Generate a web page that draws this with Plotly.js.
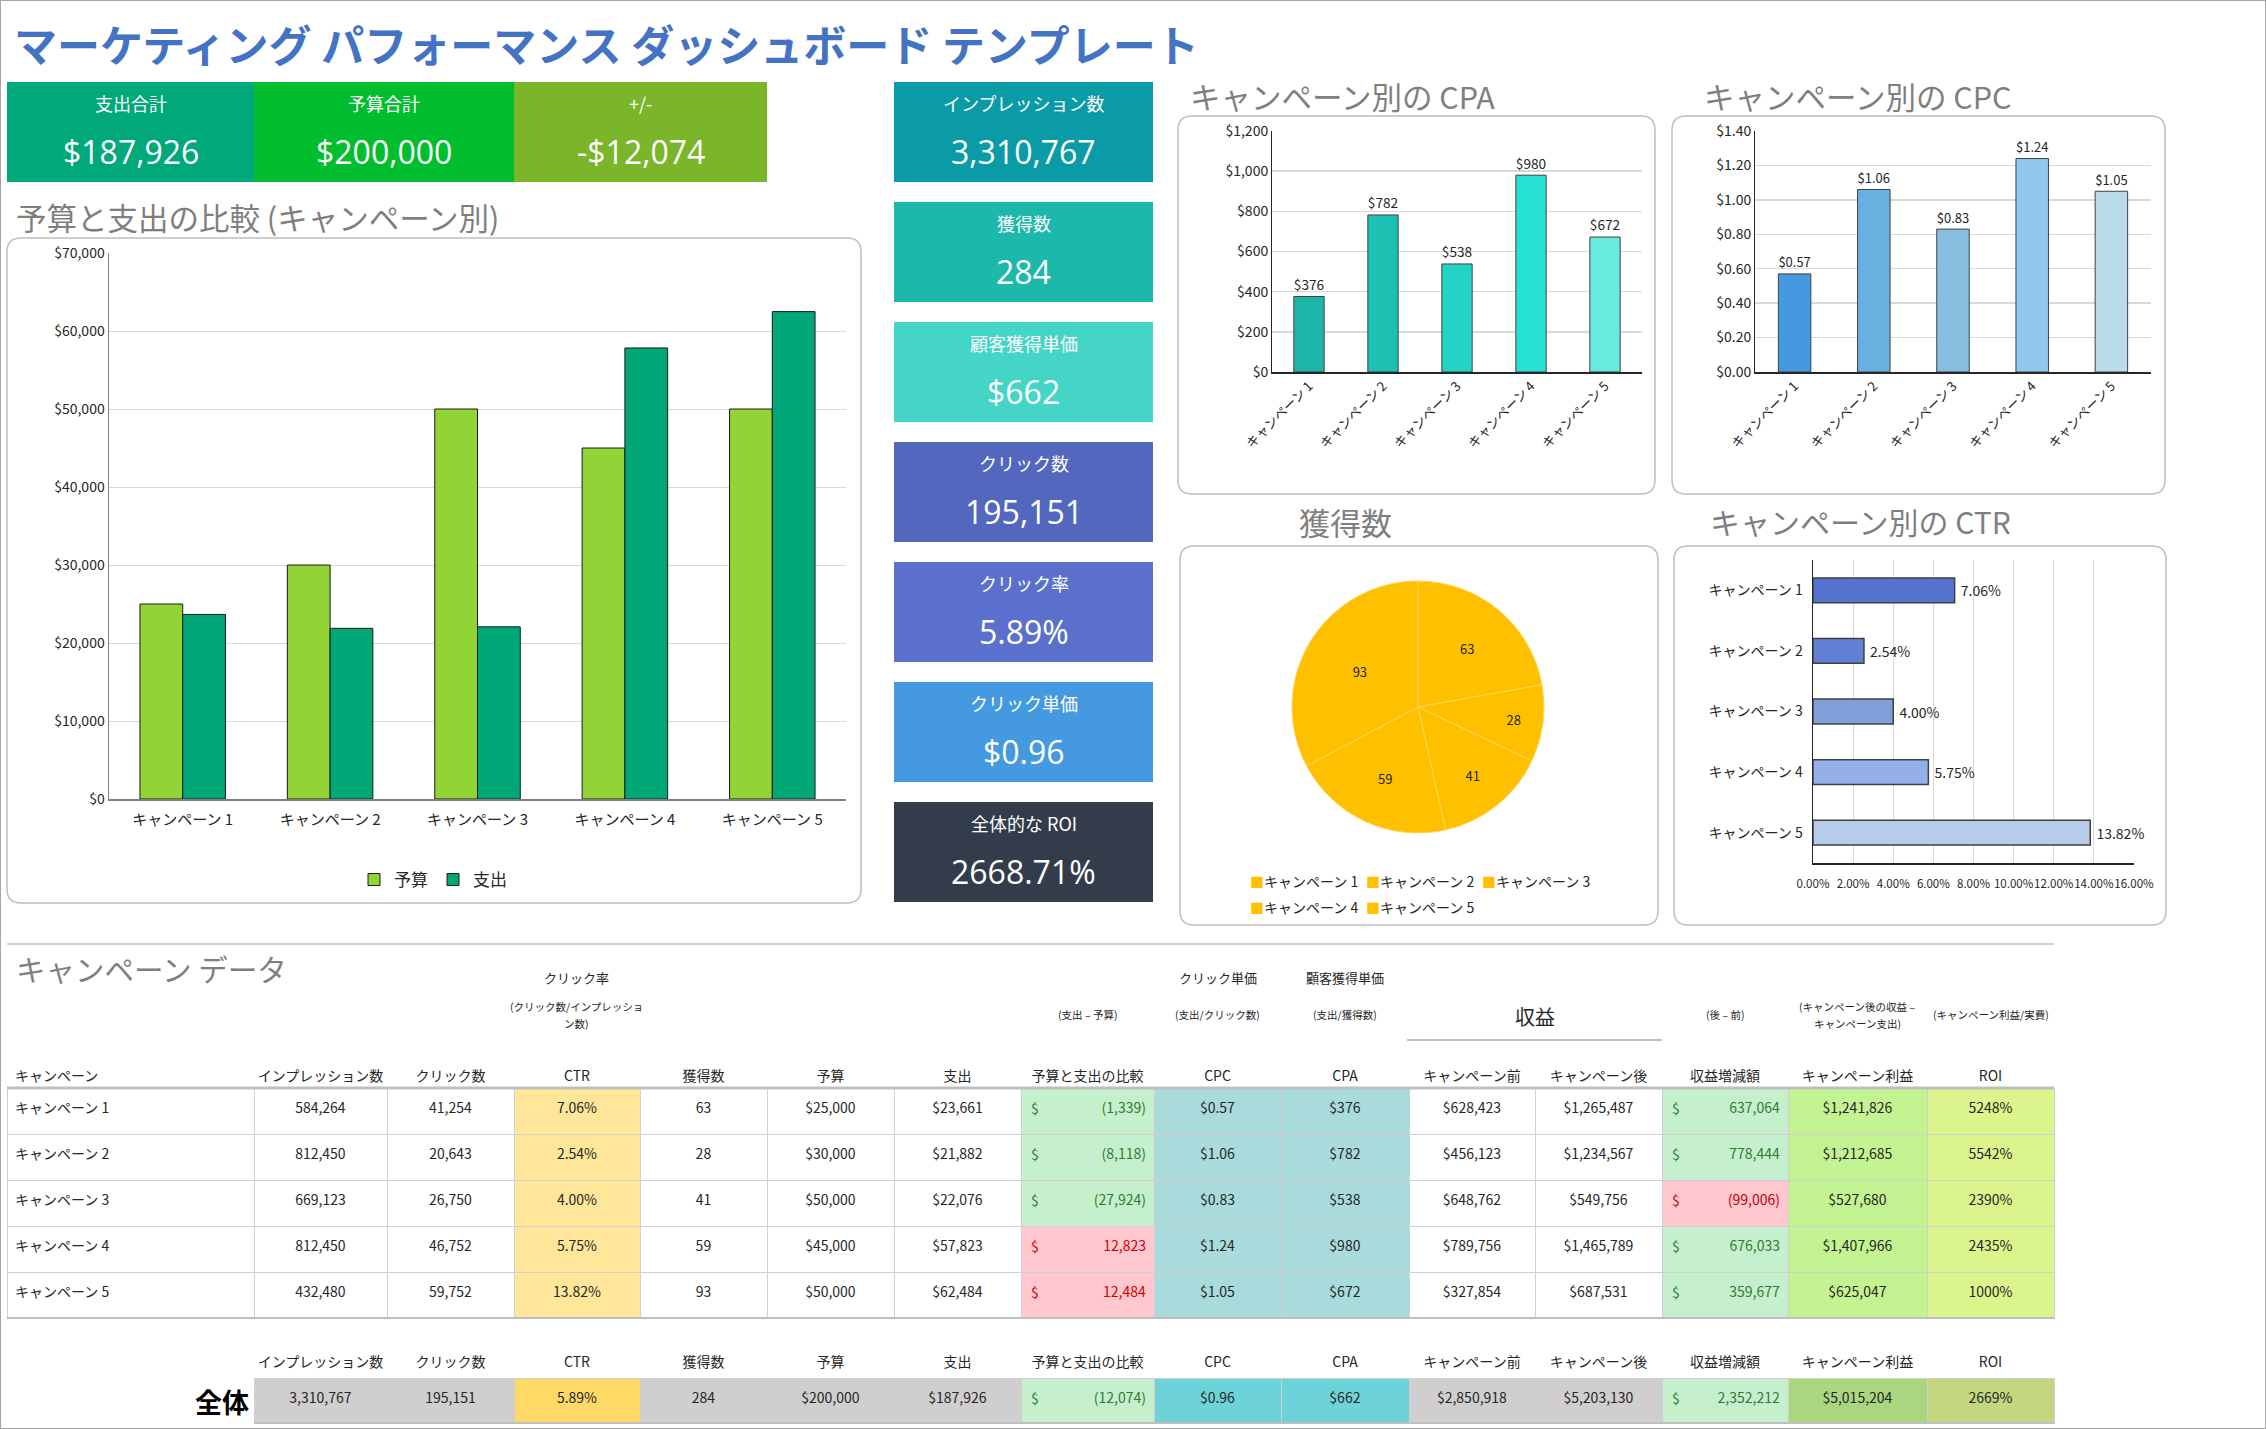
<!DOCTYPE html>
<html><head><meta charset="utf-8">
<script src="https://cdn.plot.ly/plotly-3.0.1.min.js"></script>
<style>html,body{margin:0;padding:0;background:#fff;overflow:hidden}#chart{width:2266px;height:1429px}</style>
</head><body><div id="chart"></div>
<script>
// ---------------- DATA ----------------
const campaigns = ['キャンペーン 1','キャンペーン 2','キャンペーン 3','キャンペーン 4','キャンペーン 5'];
const impressions = [584264, 812450, 669123, 812450, 432480];
const clicks = [41254, 20643, 26750, 46752, 59752];
const ctrPct = [7.06, 2.54, 4.00, 5.75, 13.82];
const acquisitions = [63, 28, 41, 59, 93];
const budget = [25000, 30000, 50000, 45000, 50000];
const spend = [23661, 21882, 22076, 57823, 62484];
const budgetVsSpend = [-1339, -8118, -27924, 12823, 12484];
const cpc = [0.57, 1.06, 0.83, 1.24, 1.05];
const cpa = [376, 782, 538, 980, 672];
const revenueBefore = [628423, 456123, 648762, 789756, 327854];
const revenueAfter = [1265487, 1234567, 549756, 1465789, 687531];
const revenueChange = [637064, 778444, -99006, 676033, 359677];
const campaignProfit = [1241826, 1212685, 527680, 1407966, 625047];
const roiPct = [5248, 5542, 2390, 2435, 1000];

const totalsRow = [3310767, 195151, 5.89, 284, 200000, 187926, -12074, 0.96, 662, 2850918, 5203130, 2352212, 5015204, 2669];

const kpiTopLabels = ['支出合計','予算合計','+/-'];
const kpiTopValues = ['$187,926','$200,000','-$12,074'];
const kpiSideLabels = ['インプレッション数','獲得数','顧客獲得単価','クリック数','クリック率','クリック単価','全体的な ROI'];
const kpiSideValues = ['3,310,767','284','$662','195,151','5.89%','$0.96','2668.71%'];

const tableHeaders = ['キャンペーン','インプレッション数','クリック数','CTR','獲得数','予算','支出','予算と支出の比較','CPC','CPA','キャンペーン前','キャンペーン後','収益増減額','キャンペーン利益','ROI'];

const seriesNames = ['予算','支出'];
const mainTitle = 'マーケティング パフォーマンス ダッシュボード テンプレート';
const chartTitles = ['予算と支出の比較 (キャンペーン別)','キャンペーン別の CPA','キャンペーン別の CPC','獲得数','キャンペーン別の CTR','キャンペーン データ'];

// ---------------- HELPERS ----------------
const W = 2266, H = 1429;
const X = p => p / W, Y = p => 1 - p / H;
const JP = '"Noto Sans CJK JP", "Noto Sans", sans-serif';
const NUMF = '"Open Sans", "Noto Sans CJK JP", sans-serif';
const int = n => Math.round(n).toLocaleString('en-US');
const money = n => '$' + int(n);
const paren = n => n < 0 ? '(' + int(-n) + ')' : int(n);
// vertically centre text inside tall table cells (table text is top-aligned)
const vc = s => '<span style="font-size:1px"> </span><br><span style="font-size:14px">' + s + '</span>';

const ann = [];
function txt(x, y, text, size, color, opts) {
  ann.push(Object.assign({xref:'paper', yref:'paper', x:X(x), y:Y(y), text:text, showarrow:false,
    font:{family:JP, size:size, color:color}, xanchor:'center', yanchor:'middle'}, opts || {}));
}
const shapes = [];
function rect(x0, y0, x1, y1, fill, layer) {
  shapes.push({type:'rect', xref:'paper', yref:'paper', x0:X(x0), x1:X(x1), y0:Y(y1), y1:Y(y0),
    fillcolor:fill, line:{width:0}, layer:layer || 'below'});
}
function hline(x0, x1, y, color, w) {
  shapes.push({type:'line', xref:'paper', yref:'paper', x0:X(x0), x1:X(x1), y0:Y(y), y1:Y(y),
    line:{color:color, width:w}, layer:'above'});
}
function rbox(x0, y0, x1, y1, r) {
  const P = (x, y) => X(x) + ',' + Y(y);
  const path = 'M' + P(x0 + r, y0) + ' L' + P(x1 - r, y0) + ' Q' + P(x1, y0) + ' ' + P(x1, y0 + r) +
    ' L' + P(x1, y1 - r) + ' Q' + P(x1, y1) + ' ' + P(x1 - r, y1) + ' L' + P(x0 + r, y1) +
    ' Q' + P(x0, y1) + ' ' + P(x0, y1 - r) + ' L' + P(x0, y0 + r) + ' Q' + P(x0, y0) + ' ' + P(x0 + r, y0) + ' Z';
  shapes.push({type:'path', xref:'paper', yref:'paper', path:path, line:{color:'#BFBFBF', width:1.5}, layer:'below'});
}

// page frame
shapes.push({type:'rect', xref:'paper', yref:'paper', x0:0, x1:1, y0:0, y1:1, line:{color:'#A6A6A6', width:2}, layer:'below'});

// ---------------- TITLE ----------------
txt(12, 43, mainTitle, 43, '#4472C4', {xanchor:'left', font:{family:JP, size:43, color:'#4472C4', weight:700}});

// ---------------- KPI TILES ----------------
const topTileX = [[7,254],[254,514],[514,767]];
const topTileColors = ['#00A87A','#00BE2E','#7AB52A'];
kpiTopLabels.forEach((l, i) => {
  const [a, b] = topTileX[i];
  rect(a, 82, b, 182, topTileColors[i]);
  txt((a + b) / 2, 103, l, 18, '#FFFFFF');
  txt((a + b) / 2, 151, kpiTopValues[i], 32, '#FFFFFF', {font:{family:NUMF, size:32, color:'#FFFFFF'}});
});
const sideColors = ['#0B9BA6','#1CB8AB','#45D5C7','#5367BF','#5A70CC','#4499E0','#323C4B'];
kpiSideLabels.forEach((l, i) => {
  const top = 82 + i * 120;
  rect(894, top, 1153, top + 100, sideColors[i]);
  txt(1023.5, top + 21, l, 18, '#FFFFFF');
  txt(1023.5, top + 69, kpiSideValues[i], 32, '#FFFFFF', {font:{family:NUMF, size:32, color:'#FFFFFF'}});
});

// ---------------- CHART BOXES & TITLES ----------------
rbox(7, 238, 861, 903, 14);
rbox(1178, 116, 1655, 494, 14);
rbox(1672, 116, 2165, 494, 14);
rbox(1180, 546, 1658, 925, 14);
rbox(1674, 546, 2166, 925, 14);
txt(14, 217, chartTitles[0], 30.5, '#7F7F7F', {xanchor:'left'});
txt(1188, 96, chartTitles[1], 30.5, '#7F7F7F', {xanchor:'left'});
txt(1702, 96, chartTitles[2], 30.5, '#7F7F7F', {xanchor:'left'});
txt(1345, 521, chartTitles[3], 31, '#7F7F7F');
txt(1708, 521, chartTitles[4], 30, '#7F7F7F', {xanchor:'left'});

// pie legend (two rows)
campaigns.forEach((c, i) => {
  const row = i < 3 ? 0 : 1, col = i < 3 ? i : i - 3;
  txt(1248 + col * 116, 881 + row * 26, '<span style="color:#FFC000">■</span>' + c, 14, '#262626', {xanchor:'left'});
});

// ---------------- TABLE SECTION ----------------
hline(7, 2054, 944, '#D0D0D0', 2);
txt(14, 968, chartTitles[5], 29.5, '#7F7F7F', {xanchor:'left'});

const B = [7, 254, 387, 514, 640, 767, 894, 1021, 1154, 1281, 1409, 1535, 1662, 1788, 1927, 2054];
const colW = B.slice(1).map((b, i) => b - B[i]);
const cx = i => (B[i] + B[i + 1]) / 2;

txt(cx(3), 977, 'クリック率', 13, '#262626');
txt(cx(3), 1006, '(クリック数/インプレッショ', 10.5, '#262626');
txt(cx(3), 1024, 'ン数)', 10.5, '#262626');
txt(cx(7), 1014, '(支出 – 予算)', 10.5, '#262626');
txt(cx(8), 977, 'クリック単価', 13, '#262626');
txt(cx(8), 1014, '(支出/クリック数)', 10.5, '#262626');
txt(cx(9), 977, '顧客獲得単価', 13, '#262626');
txt(cx(9), 1014, '(支出/獲得数)', 10.5, '#262626');
txt(1535, 1016, '収益', 20, '#262626');
hline(1407, 1662, 1040, '#BFBFBF', 2);
txt(cx(12), 1014, '(後 – 前)', 10.5, '#262626');
txt(cx(13), 1006, '(キャンペーン後の収益 –', 10.5, '#262626');
txt(cx(13), 1024, 'キャンペーン支出)', 10.5, '#262626');
txt(cx(14), 1014, '(キャンペーン利益/実費)', 10.5, '#262626');

const GREEN_BG = '#C6EFCE', RED_BG = '#FFC7CE', GREEN_TX = '#2E7D2E', RED_TX = '#D00000';
const five = v => campaigns.map(() => v);
const diffFill = budgetVsSpend.map(v => v < 0 ? GREEN_BG : RED_BG);
const diffFont = budgetVsSpend.map(v => v < 0 ? GREEN_TX : RED_TX);
const chgFill = revenueChange.map(v => v >= 0 ? GREEN_BG : RED_BG);
const chgFont = revenueChange.map(v => v >= 0 ? GREEN_TX : '#C00000');

const cellValues = [
  campaigns, impressions.map(int), clicks.map(int), ctrPct.map(v => v.toFixed(2) + '%'),
  acquisitions.map(String), budget.map(money), spend.map(money), budgetVsSpend.map(paren),
  cpc.map(v => '$' + v.toFixed(2)), cpa.map(money), revenueBefore.map(money), revenueAfter.map(money),
  revenueChange.map(paren), campaignProfit.map(money), roiPct.map(v => v + '%')
].map(col => col.map(vc));
const cellFill = [five('white'), five('white'), five('white'), five('#FFE699'), five('white'), five('white'), five('white'),
  diffFill, five('#A9DADC'), five('#A9DADC'), five('white'), five('white'), chgFill, five('#C4F391'), five('#DCF48C')];
const cellFont = [five('#262626'), five('#262626'), five('#262626'), five('#262626'), five('#262626'), five('#262626'), five('#262626'),
  diffFont, five('#262626'), five('#262626'), five('#262626'), five('#262626'), chgFont, five('#262626'), five('#262626')];
const aligns = ['left','center','center','center','center','center','center','right','center','center','center','center','right','center','center'];

// $ signs in the accounting columns
const ROW0 = 1088, RH = 46;
campaigns.forEach((c, i) => {
  const yc = ROW0 + RH / 2 + i * RH - 3;
  txt(B[7] + 8, yc, '$', 14, diffFont[i], {xanchor:'left'});
  txt(B[12] + 8, yc, '$', 14, chgFont[i], {xanchor:'left'});
});
hline(7, 2054, 1088, '#BFBFBF', 3);
hline(7, 2054, 1318, '#BFBFBF', 2);

// totals
txt(222, 1401, '全体', 27, '#000000', {font:{family:JP, size:27, color:'#000', weight:700}});
const tv = totalsRow;
const totalCells = [int(tv[0]), int(tv[1]), tv[2].toFixed(2) + '%', int(tv[3]), money(tv[4]), money(tv[5]), paren(tv[6]),
  '$' + tv[7].toFixed(2), money(tv[8]), money(tv[9]), money(tv[10]), int(tv[11]), money(tv[12]), tv[13] + '%'].map(s => [vc(s)]);
const totalFill = ['#D0CECE','#D0CECE','#FFD966','#D0CECE','#D0CECE','#D0CECE','#C6EFCE','#6DD3D9','#6DD3D9','#D0CECE','#D0CECE','#C6EFCE','#A9D67F','#C4D67F'];
const totalFont = ['#262626','#262626','#262626','#262626','#262626','#262626',GREEN_TX,'#262626','#262626','#262626','#262626',GREEN_TX,'#262626','#262626'];
txt(B[7] + 8, 1398, '$', 14, GREEN_TX, {xanchor:'left'});
txt(B[12] + 8, 1398, '$', 14, GREEN_TX, {xanchor:'left'});
hline(254, 2054, 1423, '#BFBFBF', 2);

// ---------------- TRACES ----------------
const NB = '\u00a0';
const traces = [
  {type:'bar', name:seriesNames[0], x:campaigns, y:budget, xaxis:'x', yaxis:'y', width:0.29, offset:-0.29,
   marker:{color:'#92D336', line:{color:'#1A1A1A', width:1}}, legend:'legend'},
  {type:'bar', name:seriesNames[1], x:campaigns, y:spend, xaxis:'x', yaxis:'y', width:0.29, offset:0,
   marker:{color:'#00A878', line:{color:'#1A1A1A', width:1}}, legend:'legend'},
  {type:'bar', x:campaigns, y:cpa, xaxis:'x2', yaxis:'y2', showlegend:false,
   marker:{color:['#1DB6A8','#1DC1B3','#21D4C6','#27E1D5','#68EADF'], line:{color:'#404040', width:1}},
   text:cpa.map(v => '$' + v), textposition:'outside', textfont:{size:15, color:'#262626', family:JP}, cliponaxis:false},
  {type:'bar', x:campaigns, y:cpc, xaxis:'x3', yaxis:'y3', showlegend:false,
   marker:{color:['#4499E1','#66B1E0','#88BFE1','#91C9EC','#BADCE9'], line:{color:'#404040', width:1}},
   text:cpc.map(v => '$' + v.toFixed(2)), textposition:'outside', textfont:{size:15, color:'#262626', family:JP}, cliponaxis:false},
  {type:'bar', orientation:'h', y:campaigns, x:ctrPct, xaxis:'x4', yaxis:'y4', showlegend:false,
   marker:{color:['#5572CF','#6381D4','#839FD9','#94B0E8','#B7CCEA'], line:{color:'#404040', width:1.5}},
   text:ctrPct.map(v => NB + v.toFixed(2) + '%'), textposition:'outside', textfont:{size:14, color:'#262626', family:JP}, cliponaxis:false},
  {type:'pie', labels:campaigns, values:acquisitions, sort:false, direction:'clockwise', rotation:0,
   domain:{x:[X(1292), X(1544)], y:[Y(833), Y(581)]}, showlegend:false,
   marker:{colors:five('#FFC000'), line:{color:'#FFD65C', width:1}},
   textinfo:'value', textposition:'inside', insidetextorientation:'horizontal',
   textfont:{size:13, color:'#262626', family:JP}},
  {type:'table', domain:{x:[X(7), X(2054)], y:[Y(1330), Y(1062)]}, columnwidth:colW,
   header:{values:tableHeaders, height:26, align:aligns.map((a, i) => i === 0 ? 'left' : 'center'),
     fill:{color:'white'}, line:{color:'white', width:0}, font:{family:JP, size:14, color:'#262626'}},
   cells:{values:cellValues, height:46, align:aligns, fill:{color:cellFill}, line:{color:'#D0D0D0', width:1},
     font:{family:JP, size:12.5, color:cellFont}}},
  {type:'table', domain:{x:[X(254), X(2054)], y:[Y(1428), Y(1348)]}, columnwidth:colW.slice(1),
   header:{values:tableHeaders.slice(1), height:30, align:'center',
     fill:{color:'white'}, line:{color:'white', width:0}, font:{family:JP, size:14, color:'#262626'}},
   cells:{values:totalCells, height:45, align:aligns.slice(1), fill:{color:totalFill}, line:{color:'#D0D0D0', width:1},
     font:{family:JP, size:12.5, color:totalFont}}}
];

const axFont = {family:JP, size:14, color:'#262626'};
const layout = {
  width:W, height:H, margin:{l:0, r:0, t:0, b:0}, paper_bgcolor:'white', plot_bgcolor:'rgba(0,0,0,0)',
  font:{family:JP, size:14, color:'#262626'}, bargap:0.59, barmode:'overlay', hovermode:false,
  xaxis:{domain:[X(109), X(846)], anchor:'y', showline:true, linecolor:'#808080', linewidth:2, ticks:'',
    ticklabelstandoff:6, tickfont:{family:JP, size:15, color:'#262626'}, automargin:false, fixedrange:true},
  yaxis:{domain:[Y(799), Y(253)], anchor:'x', range:[0, 70000], dtick:10000, tickprefix:'$', tickformat:',d',
    gridcolor:'#D9D9D9', showline:true, linecolor:'#808080', linewidth:1.5, zeroline:false, tickfont:axFont, automargin:false},
  xaxis2:{domain:[X(1272), X(1642)], anchor:'y2', showline:true, linecolor:'#262626', linewidth:1.5, ticks:'',
    tickangle:-45, tickfont:{family:JP, size:13, color:'#262626'}, automargin:false},
  yaxis2:{domain:[Y(372), Y(131)], anchor:'x2', range:[0, 1200], dtick:200, tickprefix:'$', tickformat:',d',
    gridcolor:'#D9D9D9', gridwidth:1.5, showline:true, linecolor:'#262626', linewidth:1, zeroline:false, tickfont:axFont, automargin:false},
  xaxis3:{domain:[X(1755), X(2151)], anchor:'y3', showline:true, linecolor:'#262626', linewidth:1.5, ticks:'',
    tickangle:-45, tickfont:{family:JP, size:13, color:'#262626'}, automargin:false},
  yaxis3:{domain:[Y(372), Y(131)], anchor:'x3', range:[0, 1.4], dtick:0.2, tickprefix:'$', tickformat:'.2f',
    gridcolor:'#D9D9D9', gridwidth:1.5, showline:true, linecolor:'#262626', linewidth:1, zeroline:false, tickfont:axFont, automargin:false},
  xaxis4:{domain:[X(1813), X(2134)], anchor:'y4', range:[0, 16], dtick:2, ticksuffix:'%', tickformat:'.2f',
    gridcolor:'#D9D9D9', showline:true, linecolor:'#262626', linewidth:1.5, zeroline:false, ticks:'', tickangle:0,
    ticklabelstandoff:10, tickfont:{family:JP, size:11.5, color:'#262626'}, automargin:false},
  yaxis4:{domain:[Y(863), Y(560)], anchor:'x4', autorange:'reversed', showline:true, linecolor:'#262626', linewidth:1.5,
    ticks:'', ticklabelstandoff:6, tickfont:{family:JP, size:14, color:'#262626'}, automargin:false},
  legend:{orientation:'h', x:X(433), xanchor:'center', y:Y(880), yanchor:'middle', font:{family:JP, size:17, color:'#262626'},
    bgcolor:'rgba(0,0,0,0)', itemwidth:30},
  annotations:ann, shapes:shapes
};

Plotly.newPlot('chart', traces, layout, {staticPlot:true, displayModeBar:false});
</script></body></html>
